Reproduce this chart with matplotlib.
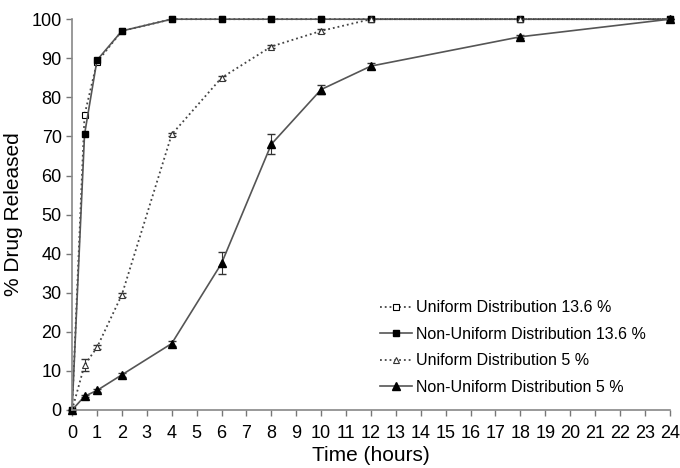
import numpy as np
import matplotlib.pyplot as plt

plt.rcParams['font.family'] = ['Liberation Sans', 'DejaVu Sans']

# zaman noktalari (saat)
zaman = [0, 0.5, 1, 2, 4, 6, 8, 10, 12, 18, 24]

uniform_136 = [0, 75.5, 89, 97, 100, 100, 100, 100, 100, 100, 100]
nonuniform_136 = [0, 70.5, 89.5, 97, 100, 100, 100, 100, 100, 100, 100]
uniform_5 = [0, 11.5, 16, 29.5, 70.5, 85, 93, 97, 100, 100, 100]
nonuniform_5 = [0, 3.5, 5, 9, 17, 37.5, 68, 82, 88, 95.5, 100]

# hata cubuklari
uniform_5_hata = [0, 1.5, 0.5, 0.5, 0.5, 0.5, 0.5, 0.5, 0, 0, 0]
nonuniform_5_hata = [0, 0.3, 0.3, 0.5, 0.6, 2.8, 2.5, 1.2, 0.7, 0.4, 0]

fig = plt.figure(figsize=(6.8, 4.68), dpi=100)
ax = fig.add_axes([0.106, 0.124, 0.879, 0.835])

# hata cubuklari (legend'a girmesin)
ax.errorbar(zaman, uniform_5, yerr=uniform_5_hata, fmt='none', ecolor='#333333',
            elinewidth=0.8, capsize=3)
ax.errorbar(zaman, nonuniform_5, yerr=nonuniform_5_hata, fmt='none', ecolor='#333333',
            elinewidth=0.8, capsize=3)

ax.plot(zaman, uniform_136, color='#444444', linestyle=':', linewidth=1.3,
        marker='s', markersize=5, markerfacecolor='white', markeredgecolor='black',
        markeredgewidth=0.8, label='Uniform Distribution 13.6 %')
ax.plot(zaman, nonuniform_136, color='#555555', linestyle='-', linewidth=1.2,
        marker='s', markersize=5, markerfacecolor='black', markeredgecolor='black',
        label='Non-Uniform Distribution 13.6 %')
ax.plot(zaman, uniform_5, color='#444444', linestyle=':', linewidth=1.3,
        marker='^', markersize=5, markerfacecolor='white', markeredgecolor='#333333',
        markeredgewidth=0.8, label='Uniform Distribution 5 %')
ax.plot(zaman, nonuniform_5, color='#555555', linestyle='-', linewidth=1.2,
        marker='^', markersize=5.5, markerfacecolor='black', markeredgecolor='black',
        label='Non-Uniform Distribution 5 %')

ax.set_xlim(0, 24)
ax.set_ylim(0, 100)
ax.set_xticks(np.arange(0, 25, 1))
ax.set_yticks(np.arange(0, 101, 10))
ax.tick_params(labelsize=13, color='#777777', length=4, width=1)
ax.tick_params(axis='x', pad=7)
for s in ['top', 'right']:
    ax.spines[s].set_visible(False)
for s in ['left', 'bottom']:
    ax.spines[s].set_color('#888888')
    ax.spines[s].set_linewidth(1.2)
for ln in ax.get_lines():
    ln.set_clip_on(False)

ax.set_xlabel('Time (hours)', fontsize=15, labelpad=3)
ax.set_ylabel('% Drug Released', fontsize=15, labelpad=6)

ax.legend(loc='upper left', bbox_to_anchor=(0.549, 0.372), bbox_transform=fig.transFigure,
          borderaxespad=0, frameon=False, fontsize=11.5,
          handlelength=2.0, handletextpad=0.3, labelspacing=0.72)

fig.savefig('out.png', dpi=100)
